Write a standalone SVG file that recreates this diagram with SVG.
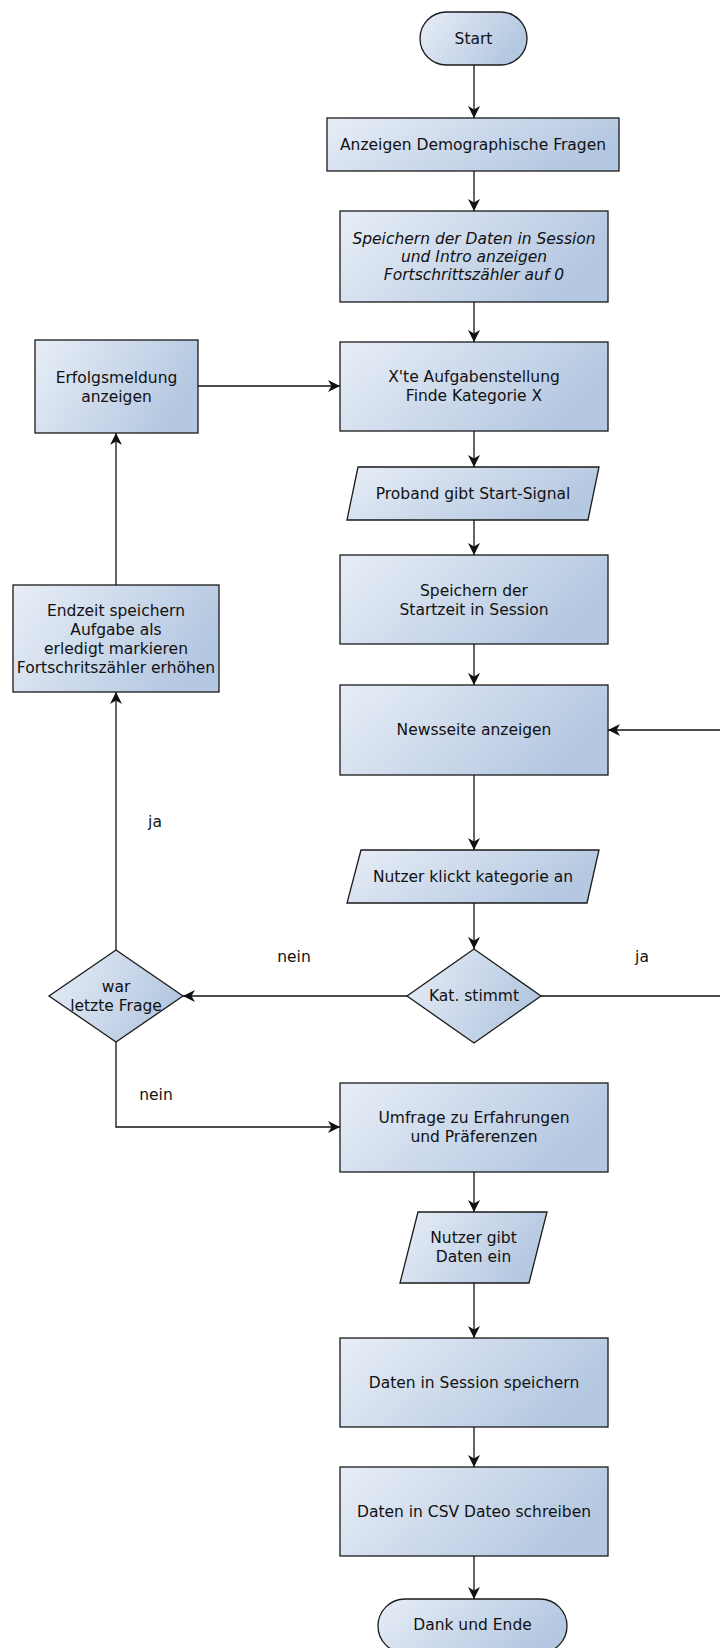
<svg xmlns="http://www.w3.org/2000/svg" width="720" height="1648" viewBox="0 0 720 1648">
<style>
.n{fill:url(#g);stroke:#1a1a1a;stroke-width:1.3}
.t{font-family:"DejaVu Sans","Liberation Sans",sans-serif;font-size:15.5px;fill:#111;text-anchor:middle;dominant-baseline:central}
.i{font-style:italic}
.c{fill:none;stroke:#111;stroke-width:1.3;marker-end:url(#a)}
</style>
<defs>
<linearGradient id="g" x1="0" y1="0" x2="1" y2="0.35">
<stop offset="0" stop-color="#e8eef7"/>
<stop offset="1" stop-color="#b5c8e1"/>
</linearGradient>
<marker id="a" markerUnits="userSpaceOnUse" markerWidth="14" markerHeight="12" refX="12" refY="6" orient="auto">
<path d="M0,0 L12,6 L0,12 L3.5,6 z" fill="#111"/>
</marker>
</defs>
<g id="connectors">
<path class="c" d="M474,65 V118"/>
<path class="c" d="M474,171 V211"/>
<path class="c" d="M474,302 V342"/>
<path class="c" d="M474,431 V467"/>
<path class="c" d="M474,520 V555"/>
<path class="c" d="M474,644 V685"/>
<path class="c" d="M474,775 V850"/>
<path class="c" d="M474,903 V949"/>
<path class="c" d="M407,996 H183"/>
<path class="c" d="M541,996 H730 V730 H608"/>
<path class="c" d="M116,950 V692"/>
<path class="c" d="M116,585 V433"/>
<path class="c" d="M198,386 H340"/>
<path class="c" d="M116,1042 V1127 H340"/>
<path class="c" d="M474,1172 V1212"/>
<path class="c" d="M474,1283 V1338"/>
<path class="c" d="M474,1427 V1467"/>
<path class="c" d="M474,1556 V1599"/>
<text class="t" x="155" y="822">ja</text>
<text class="t" x="294" y="957">nein</text>
<text class="t" x="642" y="957">ja</text>
<text class="t" x="156" y="1095">nein</text>
</g>
<g id="start">
<rect class="n" x="420" y="12" width="107" height="53" rx="26.5"/>
<text class="t" x="473.5" y="38.5">Start</text>
</g>
<g id="demografie">
<rect class="n" x="327" y="118" width="292" height="53"/>
<text class="t" x="473" y="144.5">Anzeigen Demographische Fragen</text>
</g>
<g id="speichern-intro">
<rect class="n" x="340" y="211" width="268" height="91"/>
<text class="t i" x="474" y="238.5">Speichern der Daten in Session</text>
<text class="t i" x="474" y="256.5">und Intro anzeigen</text>
<text class="t i" x="474" y="274.5">Fortschrittszähler auf 0</text>
</g>
<g id="aufgabe">
<rect class="n" x="340" y="342" width="268" height="89"/>
<text class="t" x="474" y="377">X'te Aufgabenstellung</text>
<text class="t" x="474" y="396">Finde Kategorie X</text>
</g>
<g id="erfolg">
<rect class="n" x="35" y="340" width="163" height="93"/>
<text class="t" x="116.5" y="377.5">Erfolgsmeldung</text>
<text class="t" x="116.5" y="396.5">anzeigen</text>
</g>
<g id="startsignal">
<polygon class="n" points="358,467 599,467 588,520 347,520"/>
<text class="t" x="473" y="493.5">Proband gibt Start-Signal</text>
</g>
<g id="startzeit">
<rect class="n" x="340" y="555" width="268" height="89"/>
<text class="t" x="474" y="591">Speichern der</text>
<text class="t" x="474" y="610">Startzeit in Session</text>
</g>
<g id="endzeit">
<rect class="n" x="13" y="585" width="206" height="107"/>
<text class="t" x="116" y="610.5">Endzeit speichern</text>
<text class="t" x="116" y="629.5">Aufgabe als</text>
<text class="t" x="116" y="648.5">erledigt markieren</text>
<text class="t" x="116" y="667.5">Fortschritszähler erhöhen</text>
</g>
<g id="newsseite">
<rect class="n" x="340" y="685" width="268" height="90"/>
<text class="t" x="474" y="730">Newsseite anzeigen</text>
</g>
<g id="klick">
<polygon class="n" points="361,850 599,850 587,903 347,903"/>
<text class="t" x="473" y="876.5">Nutzer klickt kategorie an</text>
</g>
<g id="kat-stimmt">
<polygon class="n" points="474,949 541,996 474,1043 407,996"/>
<text class="t" x="474" y="996">Kat. stimmt</text>
</g>
<g id="letzte-frage">
<polygon class="n" points="116,950 183,996 116,1042 49,996"/>
<text class="t" x="116" y="987">war</text>
<text class="t" x="116" y="1006">letzte Frage</text>
</g>
<g id="umfrage">
<rect class="n" x="340" y="1083" width="268" height="89"/>
<text class="t" x="474" y="1118">Umfrage zu Erfahrungen</text>
<text class="t" x="474" y="1137">und Präferenzen</text>
</g>
<g id="eingabe">
<polygon class="n" points="418,1212 547,1212 529,1283 400,1283"/>
<text class="t" x="473.5" y="1238">Nutzer gibt</text>
<text class="t" x="473.5" y="1257">Daten ein</text>
</g>
<g id="session">
<rect class="n" x="340" y="1338" width="268" height="89"/>
<text class="t" x="474" y="1383">Daten in Session speichern</text>
</g>
<g id="csv">
<rect class="n" x="340" y="1467" width="268" height="89"/>
<text class="t" x="474" y="1512">Daten in CSV Dateo schreiben</text>
</g>
<g id="ende">
<rect class="n" x="378" y="1599" width="189" height="54" rx="27"/>
<text class="t" x="472.5" y="1625">Dank und Ende</text>
</g>
</svg>
